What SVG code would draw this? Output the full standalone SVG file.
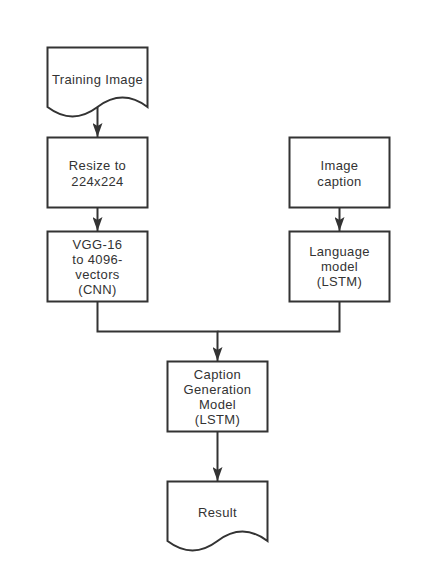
<svg xmlns="http://www.w3.org/2000/svg" width="422" height="583" viewBox="0 0 422 583">
<style>
.shape{fill:#ffffff;stroke:#333333;stroke-width:2}
.conn{fill:none;stroke:#333333;stroke-width:2}
text{font-family:"Liberation Sans","Open Sans",sans-serif;font-size:13px;letter-spacing:0.35px;fill:#333333;text-anchor:middle}
</style>
<defs>
<marker id="arr" viewBox="0 0 14 10" refX="14" refY="5" markerWidth="14" markerHeight="10" markerUnits="userSpaceOnUse" orient="auto">
<path d="M0,0 L14,5 L0,10 L3,5 Z" fill="#333333"/>
</marker>
</defs>
<rect width="422" height="583" fill="#ffffff"/>
<g id="connectors">
<path class="conn" d="M97.5,107 V137" marker-end="url(#arr)"/>
<path class="conn" d="M97.5,207.5 V231" marker-end="url(#arr)"/>
<path class="conn" d="M339.5,207.5 V231" marker-end="url(#arr)"/>
<path class="conn" d="M97.5,301.5 V331.5 H217.5 V361" marker-end="url(#arr)"/>
<path class="conn" d="M339.5,301.5 V331.5 H217.5"/>
<path class="conn" d="M217.5,431.5 V481" marker-end="url(#arr)"/>
</g>
<g id="training-image">
<path class="shape" d="M47.5,47.5 H147.5 V107 Q122.5,88.1 97.5,107 Q72.5,125.9 47.5,107 Z"/>
<text x="97.5" y="84">Training Image</text>
</g>
<g id="resize">
<rect class="shape" x="47.5" y="137.5" width="100" height="70"/>
<text x="97.5" y="169.5">Resize to</text>
<text x="97.5" y="185.5">224x224</text>
</g>
<g id="vgg">
<rect class="shape" x="47.5" y="231.5" width="100" height="70"/>
<text x="97.5" y="248.5">VGG-16</text>
<text x="97.5" y="263.5">to 4096-</text>
<text x="97.5" y="278.5">vectors</text>
<text x="97.5" y="293.5">(CNN)</text>
</g>
<g id="image-caption">
<rect class="shape" x="289.5" y="137.5" width="100" height="70"/>
<text x="339.5" y="169.5">Image</text>
<text x="339.5" y="185.5">caption</text>
</g>
<g id="language-model">
<rect class="shape" x="289.5" y="231.5" width="100" height="70"/>
<text x="339.5" y="256">Language</text>
<text x="339.5" y="271">model</text>
<text x="339.5" y="286">(LSTM)</text>
</g>
<g id="caption-generation">
<rect class="shape" x="167.5" y="361.5" width="100" height="70"/>
<text x="217.5" y="378.5">Caption</text>
<text x="217.5" y="393.5">Generation</text>
<text x="217.5" y="408.5">Model</text>
<text x="217.5" y="423.5">(LSTM)</text>
</g>
<g id="result">
<path class="shape" d="M167.5,481.5 H267.5 V541 Q242.5,522.1 217.5,541 Q192.5,559.9 167.5,541 Z"/>
<text x="217.5" y="516.5">Result</text>
</g>
</svg>
